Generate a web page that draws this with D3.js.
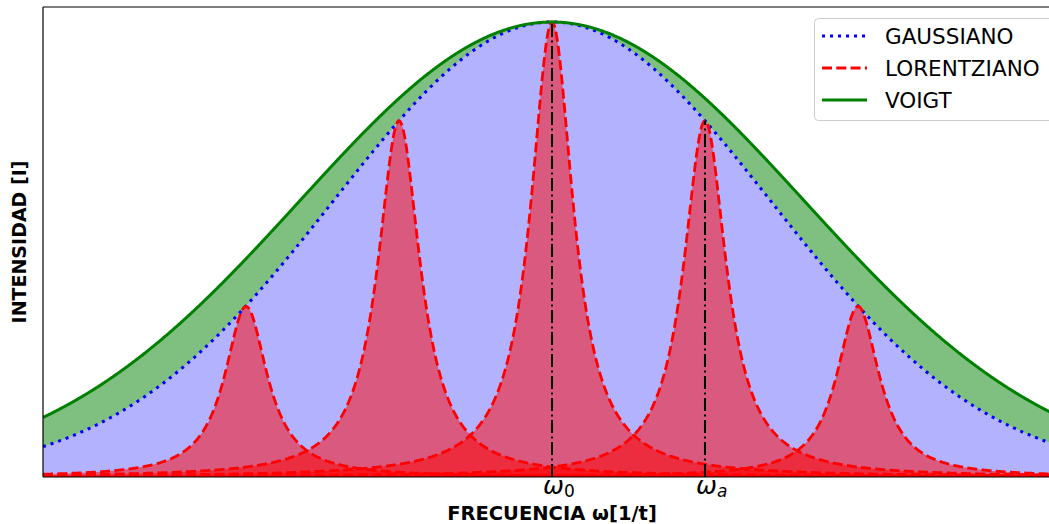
<!DOCTYPE html>
<html>
<head>
<meta charset="utf-8">
<script src="https://cdn.jsdelivr.net/npm/d3@7"></script>
<style>
  body { margin: 0; background: #fff; }
  svg { display: block; font-family: "DejaVu Sans", sans-serif; }
</style>
</head>
<body>
<div id="chart"></div>
<script>
// peak positions in units of line spacing (omega - omega0), heights
const peakCenters = [-2, -1, 0, 1, 2];
const peakHeights = [0.375, 0.783, 1.0, 0.783, 0.375];
const lorentzGamma = 0.17;   // half width of each lorentzian
const gaussSigma = 1.43;     // gaussian envelope width
const voigtSigma = 1.65;     // voigt envelope width
const envelopeHeight = 1.0;
const seriesNames = ["GAUSSIANO", "LORENTZIANO", "VOIGT"];
const tickPositions = [0, 1];
const tickSubs = ["0", "a"];
const xDomain = [-3.327, 3.327];
const yDomain = [0, 1.033];

var width = 1049, height = 524;
const margin = { top: 7, left: 43, bottom: 47 };
var plotW = 1018, plotH = 470;

var svg = d3.select("#chart").append("svg")
  .attr("width", width)
  .attr("height", height);

var x = d3.scaleLinear().domain(xDomain).range([margin.left, margin.left + plotW]);
var y = d3.scaleLinear().domain(yDomain).range([margin.top + plotH, margin.top]);

svg.append("clipPath").attr("id", "clip")
  .append("rect")
  .attr("x", margin.left).attr("y", margin.top)
  .attr("width", plotW).attr("height", plotH);

var g = svg.append("g").attr("clip-path", "url(#clip)");

// sample grid along the frequency axis
var xs = d3.range(xDomain[0], xDomain[1] + 0.004, 0.004);

function gauss(v, s) { return envelopeHeight * Math.exp(-v * v / (2 * s * s)); }
function lorentz(v, c, a) { var u = (v - c) / lorentzGamma; return a / (1 + u * u); }

var line = d3.line().x(d => x(d[0])).y(d => y(d[1]));

// voigt band between gaussian and voigt
g.append("path")
  .datum(xs)
  .attr("fill", "green").attr("fill-opacity", 0.5)
  .attr("d", d3.area().x(d => x(d)).y0(d => y(gauss(d, gaussSigma))).y1(d => y(gauss(d, voigtSigma))));

// gaussian fill
g.append("path")
  .datum(xs)
  .attr("fill", "blue").attr("fill-opacity", 0.3)
  .attr("d", d3.area().x(d => x(d)).y0(y(0)).y1(d => y(gauss(d, gaussSigma))));

// lorentzian fills
peakCenters.forEach(function (c, i) {
  g.append("path")
    .datum(xs)
    .attr("fill", "red").attr("fill-opacity", 0.5)
    .attr("d", d3.area().x(d => x(d)).y0(y(0)).y1(d => y(lorentz(d, c, peakHeights[i]))));
});

// gaussian line
g.append("path")
  .datum(xs.map(d => [d, gauss(d, gaussSigma)]))
  .attr("fill", "none").attr("stroke", "blue")
  .attr("stroke-width", 3).attr("stroke-dasharray", "3,5")
  .attr("d", line);

// lorentzian lines
peakCenters.forEach(function (c, i) {
  g.append("path")
    .datum(xs.map(d => [d, lorentz(d, c, peakHeights[i])]))
    .attr("fill", "none").attr("stroke", "red")
    .attr("stroke-width", 2.8).attr("stroke-dasharray", "10,4.3")
    .attr("d", line);
});

// voigt line
g.append("path")
  .datum(xs.map(d => [d, gauss(d, voigtSigma)]))
  .attr("fill", "none").attr("stroke", "green")
  .attr("stroke-width", 3)
  .attr("d", line);

// markers for omega0 and omega_a
tickPositions.forEach(function (p) {
  var i = peakCenters.indexOf(p);
  g.append("line")
    .attr("x1", x(p)).attr("x2", x(p))
    .attr("y1", y(0)).attr("y2", y(peakHeights[i]))
    .attr("stroke", "black").attr("stroke-width", 2)
    .attr("stroke-dasharray", "13,3.5,2,3.5");
});

// spines
var sp = svg.append("g").attr("stroke", "black").attr("stroke-width", 1.2);
sp.append("line").attr("x1", margin.left).attr("x2", margin.left).attr("y1", margin.top).attr("y2", margin.top + plotH);
sp.append("line").attr("x1", margin.left).attr("x2", margin.left + plotW).attr("y1", margin.top).attr("y2", margin.top);
sp.append("line").attr("x1", margin.left).attr("x2", margin.left + plotW).attr("y1", margin.top + plotH).attr("y2", margin.top + plotH);

// tick labels
tickPositions.forEach(function (p, i) {
  var t = svg.append("text")
    .attr("x", x(p) - 9).attr("y", 494)
    .attr("font-size", 25);
  t.append("tspan").attr("font-style", "italic").text("ω");
  t.append("tspan").attr("font-size", 17).attr("font-style", tickSubs[i] === "a" ? "italic" : "normal")
    .attr("dy", 3).text(tickSubs[i]);
});

// axis labels
svg.append("text")
  .attr("x", x(0)).attr("y", 520)
  .attr("text-anchor", "middle")
  .attr("font-size", 19.5).attr("font-weight", "bold")
  .text("FRECUENCIA ω[1/t]");

svg.append("text")
  .attr("transform", "translate(26," + (margin.top + plotH / 2) + ") rotate(-90)")
  .attr("text-anchor", "middle")
  .attr("font-size", 19).attr("font-weight", "bold")
  .text("INTENSIDAD [I]");

// legend
var lg = svg.append("g");
lg.append("rect")
  .attr("x", 814.5).attr("y", 18.5).attr("width", 260).attr("height", 102)
  .attr("rx", 4).attr("fill", "white").attr("fill-opacity", 0.8)
  .attr("stroke", "#cccccc").attr("stroke-width", 1);

var legendStyles = [
  { stroke: "blue", dash: "3,5" },
  { stroke: "red", dash: "10,4.3" },
  { stroke: "green", dash: null }
];
seriesNames.forEach(function (name, i) {
  var ly = 36 + i * 32;
  lg.append("line")
    .attr("x1", 822).attr("x2", 867).attr("y1", ly).attr("y2", ly)
    .attr("stroke", legendStyles[i].stroke).attr("stroke-width", 3)
    .attr("stroke-dasharray", legendStyles[i].dash);
  lg.append("text")
    .attr("x", 885).attr("y", ly + 8)
    .attr("font-size", 21.5)
    .text(name);
});
</script>
</body>
</html>
